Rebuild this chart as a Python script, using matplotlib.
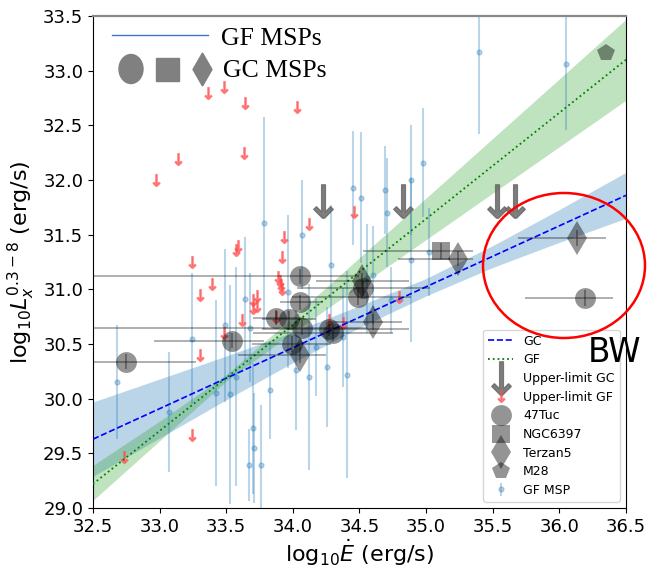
import numpy as np
import matplotlib.pyplot as plt
from matplotlib.patches import Ellipse, Rectangle, Polygon
from matplotlib.lines import Line2D

# field MSPs: log Edot, log Lx and error on Lx
gf_edot = [32.68, 33.07, 33.24, 33.42, 33.49, 33.53, 33.57, 33.64, 33.67, 33.68,
           33.70, 33.71, 33.76, 33.78, 33.83, 33.96, 34.02, 34.07, 34.12, 34.17,
           34.26, 34.29, 34.38, 34.41, 34.45, 34.51, 34.56, 34.60, 34.69, 34.71,
           34.74, 34.89, 34.89, 34.98, 35.02, 35.40, 36.05]
gf_lx = [30.15, 29.88, 30.55, 30.05, 30.67, 30.04, 30.20, 30.91, 29.39, 30.65,
         29.73, 29.55, 29.39, 31.61, 30.08, 30.98, 30.26, 31.50, 30.20, 30.47,
         30.29, 31.22, 30.56, 30.22, 31.93, 31.84, 31.10, 31.13, 31.91, 31.70,
         30.90, 32.00, 31.27, 32.16, 31.34, 33.17, 33.06]
gf_lxerr = [0.52, 0.55, 0.60, 0.85, 0.70, 1.00, 1.00, 0.57, 0.33, 0.50,
            0.60, 0.50, 0.55, 0.97, 0.45, 0.70, 0.55, 0.50, 0.85, 0.45,
            0.55, 0.55, 0.45, 0.95, 0.52, 0.60, 0.50, 0.45, 0.40, 0.50,
            0.30, 0.50, 0.75, 0.50, 0.40, 0.75, 0.60]

# field MSP upper limits
gf_ul_edot = [32.97, 33.14, 33.36, 33.48, 33.64, 33.63, 34.03, 33.24, 33.30, 33.39,
              33.57, 33.59, 33.70, 33.73, 33.70, 33.73, 33.62, 33.48, 33.30, 33.89,
              33.90, 33.91, 33.92, 33.92, 33.93, 34.12, 33.87, 34.46, 34.27, 34.38,
              34.80, 33.24, 32.73]
gf_ul_lx = [32.00, 32.19, 32.80, 32.85, 32.70, 32.25, 32.67, 31.25, 30.95, 31.05,
            31.36, 31.40, 30.90, 30.94, 30.83, 30.85, 30.72, 30.60, 30.40, 31.11,
            31.08, 31.04, 31.00, 31.30, 31.48, 31.60, 30.75, 31.71, 30.72, 30.69,
            30.93, 29.67, 29.47]

# globular cluster upper limits
gc_ul_edot = [34.23, 34.83, 35.53, 35.67]
gc_ul_lx = [31.81, 31.81, 31.81, 31.81]

# 47Tuc
tuc_edot = [32.75, 33.54, 34.05, 34.05, 33.87, 33.97, 34.07, 33.99, 34.27, 34.30, 34.49, 34.53, 36.19]
tuc_lx = [30.34, 30.53, 31.12, 30.88, 30.74, 30.73, 30.65, 30.50, 30.64, 30.60, 30.93, 31.01, 30.92]
tuc_elo = [0.60, 0.58, 1.60, 0.15, 0.17, 0.20, 1.60, 0.30, 0.50, 0.60, 0.50, 0.50, 0.45]
tuc_ehi = [0.52, 0.24, 0.45, 0.17, 0.21, 0.20, 0.49, 0.30, 0.60, 0.45, 0.40, 0.50, 0.21]

# NGC6397
ngc_edot = [35.11]
ngc_lx = [31.35]
ngc_elo = [0.58]
ngc_ehi = [0.24]

# Terzan5
ter_edot = [35.24, 36.13, 34.60, 34.05, 34.52]
ter_lx = [31.28, 31.47, 30.70, 30.40, 31.08]
ter_elo = [0.45, 0.44, 0.32, 0.46, 0.35]
ter_ehi = [0.11, 0.22, 0.22, 0.20, 0.35]

# M28
m28_edot = [36.35]
m28_lx = [33.16]

# linear fits (slope, intercept) and confidence bands
gc_fit = [0.5575, 11.511]
gf_fit = [0.97, -2.305]
band_x = [32.5, 33.0, 33.5, 34.0, 34.5, 35.0, 35.5, 36.0, 36.5]
gc_band_lo = [29.29, 29.64, 29.99, 30.33, 30.65, 30.94, 31.20, 31.43, 31.65]
gc_band_hi = [29.97, 30.18, 30.39, 30.61, 30.85, 31.10, 31.40, 31.73, 32.07]
gf_band_lo = [29.07, 29.615, 30.16, 30.605, 31.03, 31.455, 31.88, 32.305, 32.73]
gf_band_hi = [29.39, 29.795, 30.22, 30.745, 31.29, 31.835, 32.38, 32.925, 33.47]

fig = plt.figure(figsize=(6.66, 5.68), dpi=100)
ax = fig.add_axes([0.1396, 0.1056, 0.8003, 0.8662])

ax.fill_between(band_x, gc_band_lo, gc_band_hi, color='C0', alpha=0.3, lw=0, zorder=1)
ax.fill_between(band_x, gf_band_lo, gf_band_hi, color='C2', alpha=0.3, lw=0, zorder=1)

gfmsp = ax.errorbar(gf_edot, gf_lx, yerr=gf_lxerr, fmt='o', ms=3.5, color='C0',
                    alpha=0.3, elinewidth=1.5, zorder=2, label='GF MSP')

xx = np.array([32.5, 36.5])
gc_line, = ax.plot(xx, np.polyval(gc_fit, xx), '--', color='blue', lw=1.2, zorder=4, label='GC')
gf_line, = ax.plot(xx, np.polyval(gf_fit, xx), ':', color='green', lw=1.3, zorder=4, label='GF')

ul_gc, = ax.plot(gc_ul_edot, gc_ul_lx, ls='none', marker=r'$\downarrow$', ms=24,
                 color='dimgray', alpha=0.85, zorder=5, label='Upper-limit GC')
ul_gf, = ax.plot(gf_ul_edot, gf_ul_lx, ls='none', marker=r'$\downarrow$', ms=8.5,
                 color='#ff4d4d', alpha=0.6, zorder=3, label='Upper-limit GF')

# GC pulsars: horizontal Edot error bars plus a small vertical tick
ekw = dict(fmt='none', ecolor='k', alpha=0.4, elinewidth=1.1, zorder=5)
ax.errorbar(tuc_edot, tuc_lx, xerr=[tuc_elo, tuc_ehi], yerr=0.07, **ekw)
ax.errorbar(ngc_edot, ngc_lx, xerr=[ngc_elo, ngc_ehi], yerr=0.07, **ekw)
ax.errorbar(ter_edot, ter_lx, xerr=[ter_elo, ter_ehi], yerr=0.07, **ekw)

tuc, = ax.plot(tuc_edot, tuc_lx, 'o', ms=15, color='k', alpha=0.42, mew=0, zorder=6, label='47Tuc')
ngc, = ax.plot(ngc_edot, ngc_lx, 's', ms=13, color='k', alpha=0.42, mew=0, zorder=6, label='NGC6397')
ter, = ax.plot(ter_edot, ter_lx, 'd', ms=17, color='k', alpha=0.42, mew=0, zorder=6, label='Terzan5')
m28, = ax.plot(m28_edot, m28_lx, 'p', ms=13, color='k', alpha=0.42, mew=0, zorder=6, label='M28')

ax.set_xlim(32.5, 36.5)
ax.set_ylim(29.0, 33.5)
ax.set_xticks(np.arange(32.5, 36.51, 0.5))
ax.set_yticks(np.arange(29.0, 33.51, 0.5))
ax.tick_params(labelsize=13)
ax.spines['top'].set_color('#888888')
ax.spines['top'].set_linewidth(1.6)
ax.set_xlabel(r'log$_{10}\dot{E}$ (erg/s)', fontsize=16, labelpad=1)
ax.set_ylabel(r'log$_{10}L_x^{0.3-8}$ (erg/s)', fontsize=16)

ax.legend([gc_line, gf_line, ul_gc, ul_gf, tuc, ngc, ter, m28, gfmsp],
          ['GC', 'GF', 'Upper-limit GC', 'Upper-limit GF', '47Tuc', 'NGC6397',
           'Terzan5', 'M28', 'GF MSP'],
          loc='lower right', fontsize=9, labelspacing=0.45)

# marker key in the upper left corner
def fpos(px, py):
    return px / 666, 1 - py / 568

tf = fig.transFigure
fig.add_artist(Line2D([112 / 666, 208 / 666], [1 - 35 / 568] * 2, color='#4472c4', lw=1.0, transform=tf))
fig.text(*fpos(221, 45), 'GF MSPs', family='Liberation Serif', fontsize=18.5, va='baseline')
fig.text(*fpos(223, 77), 'GC MSPs', family='Liberation Serif', fontsize=18.5, va='baseline')
fig.add_artist(Ellipse(fpos(131, 69), 24 / 666, 29 / 568, color='#808080', transform=tf))
fig.add_artist(Rectangle(fpos(156, 81), 23 / 666, 23 / 568, color='#808080', transform=tf))
fig.add_artist(Polygon([fpos(202.5, 53), fpos(212, 69.5), fpos(202.5, 86), fpos(193, 69.5)],
                       closed=True, color='#808080', transform=tf))

# black widow group
fig.add_artist(Ellipse(fpos(564, 265.5), 162 / 666, 145 / 568, fill=False,
                       edgecolor='red', lw=1.8, transform=tf))
fig.text(*fpos(588, 362), 'BW', fontsize=23.5, va='baseline')

fig.savefig('out.png', dpi=100)
